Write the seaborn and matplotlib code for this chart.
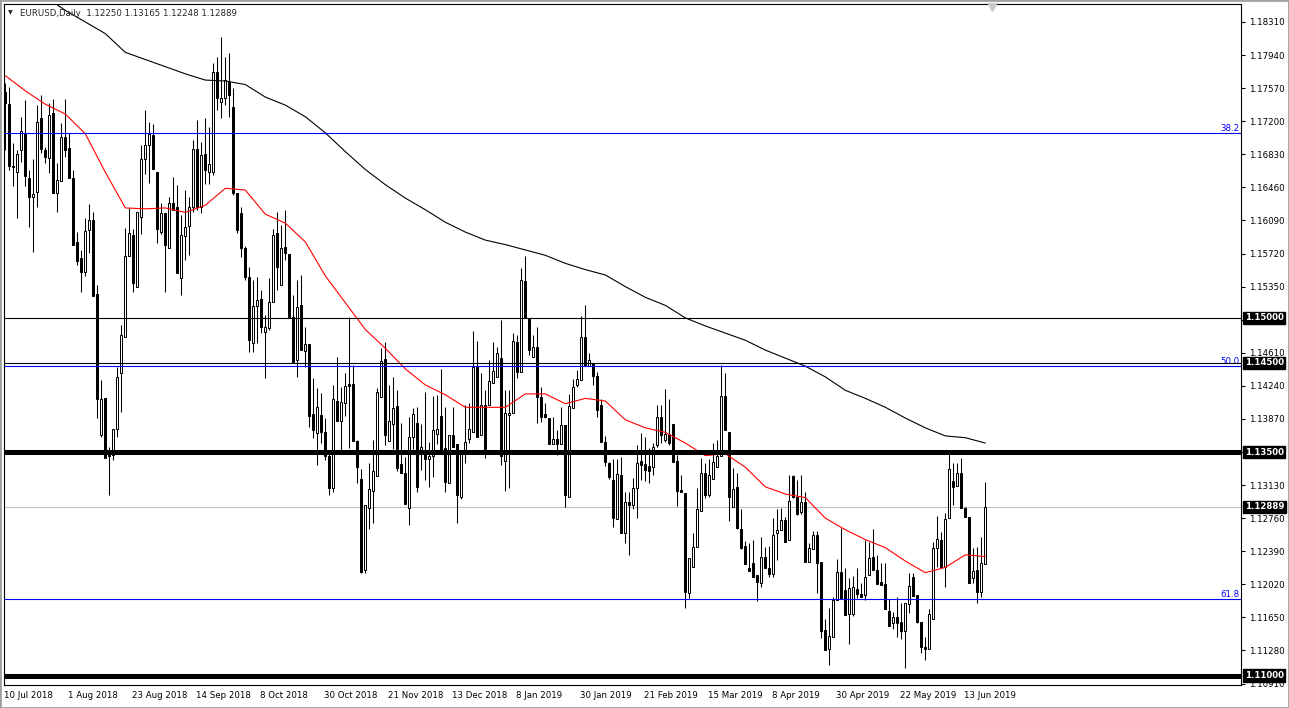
"""
EURUSD daily candles (Jul 2018 - Jun 2019) with two moving averages,
support/resistance lines and Fibonacci levels, drawn in a MetaTrader-like style.
"""
import pandas as pd
import seaborn as sns
import matplotlib.pyplot as plt
import matplotlib.transforms as mtransforms
from matplotlib.patches import Rectangle

sns.set_style("white")
plt.rcParams["font.family"] = ["DejaVu Sans"]

################################ data

OPEN = [
    1.1753, 1.1739, 1.1670, 1.1663, 1.1688, 1.1707, 1.1657, 1.1635, 1.1641, 1.1724,
    1.1688, 1.1679, 1.1729, 1.1640, 1.1653, 1.1702, 1.1690, 1.1657, 1.1585, 1.1567,
    1.1551, 1.1598, 1.1610, 1.1527, 1.1369, 1.1410, 1.1347, 1.1347, 1.1376, 1.1438,
    1.1479, 1.1569, 1.1593, 1.1535, 1.1613, 1.1678, 1.1693, 1.1705, 1.1663, 1.1596,
    1.1617, 1.1578, 1.1629, 1.1624, 1.1545, 1.1592, 1.1603, 1.1624, 1.1689, 1.1624,
    1.1683, 1.1663, 1.1663, 1.1775, 1.1742, 1.1746, 1.1764, 1.1736, 1.1640, 1.1617,
    1.1578, 1.1546, 1.1472, 1.1513, 1.1521, 1.1484, 1.1489, 1.1518, 1.1595, 1.1537,
    1.1579, 1.1571, 1.1501, 1.1453, 1.1514, 1.1463, 1.1471, 1.1393, 1.1371, 1.1391,
    1.1372, 1.1345, 1.1310, 1.1407, 1.1385, 1.1405, 1.1426, 1.1426, 1.1362, 1.1320,
    1.1218, 1.1287, 1.1306, 1.1323, 1.1412, 1.1454, 1.1362, 1.1381, 1.1402, 1.1337,
    1.1327, 1.1287, 1.1367, 1.1382, 1.1352, 1.1350, 1.1342, 1.1345, 1.1370, 1.1390,
    1.1354, 1.1315, 1.1369, 1.1359, 1.1300, 1.1348, 1.1365, 1.1372, 1.1446, 1.1369,
    1.1403, 1.1403, 1.1427, 1.1434, 1.1455, 1.1340, 1.1391, 1.1394, 1.1473, 1.1440,
    1.1541, 1.1499, 1.1456, 1.1467, 1.1412, 1.1393, 1.1388, 1.1359, 1.1365, 1.1359,
    1.1380, 1.1300, 1.1399, 1.1425, 1.1431, 1.1479, 1.1446, 1.1450, 1.1435, 1.1403,
    1.1361, 1.1338, 1.1319, 1.1275, 1.1324, 1.1259, 1.1294, 1.1291, 1.1310, 1.1340,
    1.1337, 1.1334, 1.1333, 1.1358, 1.1389, 1.1363, 1.1370, 1.1381, 1.1340, 1.1308,
    1.1304, 1.1192, 1.1221, 1.1244, 1.1284, 1.1327, 1.1302, 1.1320, 1.1333, 1.1346,
    1.1413, 1.1372, 1.1289, 1.1311, 1.1264, 1.1245, 1.1220, 1.1226, 1.1212, 1.1203,
    1.1233, 1.1220, 1.1214, 1.1259, 1.1263, 1.1274, 1.1252, 1.1323, 1.1300, 1.1283,
    1.1294, 1.1227, 1.1242, 1.1257, 1.1227, 1.1151, 1.1130, 1.1143, 1.1184, 1.1216,
    1.1196, 1.1169, 1.1169, 1.1197, 1.1191, 1.1190, 1.1212, 1.1233, 1.1218, 1.1205,
    1.1202, 1.1172, 1.1159, 1.1165, 1.1160, 1.1150, 1.1180, 1.1210, 1.1190, 1.1160,
    1.1132, 1.1130, 1.1163, 1.1243, 1.1252, 1.1221, 1.1276, 1.1318, 1.1312, 1.1327,
    1.1287, 1.1277, 1.1209, 1.1218, 1.1193, 1.12250,
]
HIGH = [
    1.1763, 1.1758, 1.1696, 1.1688, 1.1725, 1.1744, 1.1665, 1.1678, 1.1738, 1.1749,
    1.1691, 1.1740, 1.1745, 1.1673, 1.1718, 1.1745, 1.1707, 1.1665, 1.1596, 1.1576,
    1.1612, 1.1627, 1.1618, 1.1537, 1.1431, 1.1410, 1.1356, 1.1376, 1.1445, 1.1492,
    1.1601, 1.1623, 1.1599, 1.1618, 1.1693, 1.1733, 1.1719, 1.1717, 1.1663, 1.1629,
    1.1617, 1.1635, 1.1658, 1.1649, 1.1615, 1.1643, 1.1635, 1.1699, 1.1721, 1.1697,
    1.1724, 1.1714, 1.1785, 1.1792, 1.1814, 1.1792, 1.1796, 1.1757, 1.1640, 1.1624,
    1.1580, 1.1557, 1.1542, 1.1546, 1.1531, 1.1503, 1.1545, 1.1599, 1.1618, 1.1604,
    1.1621, 1.1571, 1.1526, 1.1542, 1.1548, 1.1490, 1.1471, 1.1433, 1.1422, 1.1416,
    1.1388, 1.1352, 1.1425, 1.1456, 1.1423, 1.1438, 1.1501, 1.1447, 1.1363, 1.1331,
    1.1291, 1.1338, 1.1363, 1.1422, 1.1466, 1.1473, 1.1425, 1.1434, 1.1419, 1.1382,
    1.1344, 1.1389, 1.1399, 1.1400, 1.1381, 1.1417, 1.1361, 1.1413, 1.1414, 1.1443,
    1.1400, 1.1369, 1.1400, 1.1359, 1.1352, 1.1403, 1.1405, 1.1485, 1.1474, 1.1438,
    1.1419, 1.1453, 1.1473, 1.1468, 1.1498, 1.1419, 1.1419, 1.1483, 1.1481, 1.1556,
    1.1569, 1.1499, 1.1481, 1.1490, 1.1423, 1.1405, 1.1388, 1.1389, 1.1375, 1.1400,
    1.1380, 1.1415, 1.1432, 1.1442, 1.1502, 1.1514, 1.1461, 1.1450, 1.1440, 1.1409,
    1.1368, 1.1339, 1.1342, 1.1342, 1.1344, 1.1305, 1.1305, 1.1321, 1.1358, 1.1371,
    1.1367, 1.1355, 1.1360, 1.1403, 1.1403, 1.1421, 1.1409, 1.1381, 1.1347, 1.1324,
    1.1304, 1.1231, 1.1259, 1.1310, 1.1343, 1.1338, 1.1342, 1.1360, 1.1363, 1.1447,
    1.1438, 1.1372, 1.1332, 1.1327, 1.1286, 1.1251, 1.1248, 1.1252, 1.1212, 1.1255,
    1.1244, 1.1245, 1.1276, 1.1286, 1.1287, 1.1277, 1.1324, 1.1324, 1.1319, 1.1324,
    1.1305, 1.1248, 1.1262, 1.1262, 1.1227, 1.1163, 1.1176, 1.1188, 1.1230, 1.1265,
    1.1220, 1.1209, 1.1211, 1.1220, 1.1204, 1.1252, 1.1249, 1.1264, 1.1235, 1.1226,
    1.1226, 1.1186, 1.1171, 1.1188, 1.1181, 1.1181, 1.1215, 1.1215, 1.1190, 1.1160,
    1.1143, 1.1174, 1.1249, 1.1278, 1.1261, 1.1282, 1.1348, 1.1338, 1.1338, 1.1343,
    1.1288, 1.1277, 1.1243, 1.1244, 1.1255, 1.13165,
]
LOW = [
    1.1688, 1.1665, 1.1648, 1.1612, 1.1674, 1.1648, 1.1602, 1.1574, 1.1624, 1.1684,
    1.1673, 1.1662, 1.1640, 1.1618, 1.1653, 1.1680, 1.1657, 1.1582, 1.1559, 1.1529,
    1.1547, 1.1573, 1.1525, 1.1388, 1.1367, 1.1343, 1.1302, 1.1341, 1.1367, 1.1395,
    1.1479, 1.1569, 1.1529, 1.1535, 1.1594, 1.1661, 1.1651, 1.1667, 1.1584, 1.1594,
    1.1529, 1.1578, 1.1621, 1.1550, 1.1526, 1.1565, 1.1570, 1.1618, 1.1621, 1.1617,
    1.1650, 1.1650, 1.1660, 1.1733, 1.1724, 1.1738, 1.1725, 1.1638, 1.1595, 1.1568,
    1.1542, 1.1462, 1.1462, 1.1472, 1.1483, 1.1433, 1.1487, 1.1518, 1.1531, 1.1537,
    1.1565, 1.1500, 1.1450, 1.1434, 1.1464, 1.1445, 1.1378, 1.1366, 1.1336, 1.1360,
    1.1341, 1.1302, 1.1305, 1.1385, 1.1352, 1.1390, 1.1355, 1.1362, 1.1315, 1.1215,
    1.1215, 1.1264, 1.1271, 1.1323, 1.1412, 1.1358, 1.1362, 1.1353, 1.1329, 1.1327,
    1.1292, 1.1268, 1.1353, 1.1305, 1.1330, 1.1319, 1.1311, 1.1322, 1.1359, 1.1352,
    1.1305, 1.1315, 1.1356, 1.1271, 1.1298, 1.1338, 1.1360, 1.1372, 1.1367, 1.1369,
    1.1343, 1.1403, 1.1427, 1.1434, 1.1336, 1.1306, 1.1310, 1.1394, 1.1433, 1.1440,
    1.1500, 1.1459, 1.1456, 1.1382, 1.1384, 1.1388, 1.1359, 1.1359, 1.1347, 1.1359,
    1.1289, 1.1300, 1.1399, 1.1423, 1.1431, 1.1447, 1.1446, 1.1425, 1.1389, 1.1361,
    1.1334, 1.1320, 1.1266, 1.1275, 1.1259, 1.1248, 1.1235, 1.1286, 1.1276, 1.1319,
    1.1318, 1.1315, 1.1324, 1.1356, 1.1360, 1.1361, 1.1358, 1.1339, 1.1290, 1.1305,
    1.1176, 1.1187, 1.1221, 1.1244, 1.1284, 1.1299, 1.1300, 1.1320, 1.1333, 1.1346,
    1.1375, 1.1273, 1.1289, 1.1264, 1.1242, 1.1225, 1.1217, 1.1210, 1.1183, 1.1199,
    1.1220, 1.1210, 1.1210, 1.1229, 1.1263, 1.1249, 1.1252, 1.1299, 1.1280, 1.1281,
    1.1227, 1.1227, 1.1242, 1.1192, 1.1142, 1.1129, 1.1112, 1.1143, 1.1184, 1.1187,
    1.1168, 1.1135, 1.1167, 1.1187, 1.1188, 1.1184, 1.1212, 1.1218, 1.1202, 1.1201,
    1.1174, 1.1155, 1.1152, 1.1143, 1.1141, 1.1108, 1.1170, 1.1189, 1.1159, 1.1125,
    1.1117, 1.1130, 1.1163, 1.1221, 1.1221, 1.1199, 1.1276, 1.1291, 1.1312, 1.1287,
    1.1277, 1.1204, 1.1204, 1.1181, 1.1188, 1.12248,
]
CLOSE = [
    1.1740, 1.1670, 1.1669, 1.1683, 1.1709, 1.1659, 1.1635, 1.1639, 1.1719, 1.1689,
    1.1680, 1.1727, 1.1640, 1.1654, 1.1702, 1.1688, 1.1657, 1.1582, 1.1564, 1.1551,
    1.1597, 1.1610, 1.1525, 1.1409, 1.1409, 1.1343, 1.1346, 1.1376, 1.1434, 1.1481,
    1.1569, 1.1595, 1.1539, 1.1618, 1.1678, 1.1693, 1.1706, 1.1667, 1.1599, 1.1617,
    1.1582, 1.1629, 1.1621, 1.1550, 1.1593, 1.1602, 1.1624, 1.1689, 1.1624, 1.1682,
    1.1665, 1.1672, 1.1775, 1.1746, 1.1746, 1.1766, 1.1749, 1.1640, 1.1598, 1.1578,
    1.1546, 1.1475, 1.1513, 1.1520, 1.1490, 1.1490, 1.1518, 1.1593, 1.1557, 1.1578,
    1.1573, 1.1501, 1.1451, 1.1512, 1.1464, 1.1471, 1.1390, 1.1375, 1.1400, 1.1372,
    1.1345, 1.1310, 1.1409, 1.1385, 1.1406, 1.1424, 1.1424, 1.1362, 1.1333, 1.1216,
    1.1291, 1.1309, 1.1329, 1.1417, 1.1452, 1.1369, 1.1385, 1.1399, 1.1332, 1.1327,
    1.1292, 1.1367, 1.1393, 1.1311, 1.1356, 1.1342, 1.1345, 1.1375, 1.1376, 1.1352,
    1.1317, 1.1369, 1.1356, 1.1302, 1.1348, 1.1361, 1.1376, 1.1445, 1.1367, 1.1403,
    1.1353, 1.1429, 1.1441, 1.1461, 1.1345, 1.1394, 1.1394, 1.1474, 1.1440, 1.1542,
    1.1500, 1.1464, 1.1467, 1.1412, 1.1389, 1.1389, 1.1359, 1.1365, 1.1359, 1.1380,
    1.1302, 1.1402, 1.1423, 1.1432, 1.1479, 1.1447, 1.1453, 1.1435, 1.1397, 1.1361,
    1.1339, 1.1322, 1.1276, 1.1325, 1.1259, 1.1294, 1.1291, 1.1310, 1.1338, 1.1336,
    1.1330, 1.1329, 1.1356, 1.1389, 1.1369, 1.1370, 1.1360, 1.1339, 1.1306, 1.1305,
    1.1193, 1.1231, 1.1244, 1.1286, 1.1327, 1.1302, 1.1324, 1.1339, 1.1346, 1.1413,
    1.1375, 1.1300, 1.1309, 1.1265, 1.1243, 1.1225, 1.1217, 1.1210, 1.1205, 1.1233,
    1.1220, 1.1214, 1.1257, 1.1263, 1.1274, 1.1249, 1.1295, 1.1300, 1.1281, 1.1294,
    1.1227, 1.1243, 1.1257, 1.1226, 1.1150, 1.1129, 1.1144, 1.1184, 1.1216, 1.1187,
    1.1168, 1.1198, 1.1199, 1.1191, 1.1188, 1.1210, 1.1231, 1.1218, 1.1202, 1.1201,
    1.1174, 1.1155, 1.1165, 1.1159, 1.1150, 1.1181, 1.1200, 1.1189, 1.1160, 1.1132,
    1.1130, 1.1169, 1.1243, 1.1253, 1.1221, 1.1275, 1.1331, 1.1311, 1.1327, 1.1287,
    1.1277, 1.1204, 1.1217, 1.1193, 1.1226, 1.12889,
]

# moving averages, sampled every 5 bars
RED_MA_BARS = list(range(0, 246, 5))
RED_MA = [
    1.1771, 1.1754, 1.1739, 1.1728, 1.1706, 1.1663, 1.1623, 1.1622, 1.1623, 1.1618,
    1.1626, 1.1645, 1.1643, 1.1616, 1.1606, 1.1585, 1.1547, 1.1517, 1.1487, 1.1466,
    1.1443, 1.1425, 1.1414, 1.1400, 1.1400, 1.1400, 1.1415, 1.1415, 1.1404, 1.1410,
    1.1407, 1.1386, 1.1377, 1.1372, 1.1360, 1.1346, 1.1348, 1.1333, 1.1311, 1.1303,
    1.1299, 1.1276, 1.1263, 1.1252, 1.1243, 1.1228, 1.1215, 1.1221, 1.1235, 1.1233,
]
BLACK_MA_BARS = [13] + list(range(15, 246, 5))
BLACK_MA = [
    1.1850, 1.1844, 1.1831, 1.1818, 1.1797, 1.1789, 1.1781, 1.1773, 1.1766, 1.1765,
    1.1761, 1.1747, 1.1738, 1.1725, 1.1707, 1.1686, 1.1666, 1.1649, 1.1634, 1.1621,
    1.1607, 1.1596, 1.1587, 1.1582, 1.1576, 1.1570, 1.1561, 1.1554, 1.1548, 1.1535,
    1.1523, 1.1514, 1.1500, 1.1491, 1.1483, 1.1475, 1.1464, 1.1455, 1.1446, 1.1434,
    1.1419, 1.1410, 1.1400, 1.1388, 1.1377, 1.1368, 1.1366, 1.1360,
]

THIN_LEVELS = [1.1500, 1.1450]
THICK_LEVELS = [1.1350, 1.1100]
FIB_LABELS = ["38.2", "50.0", "61.8"]
FIB_PRICES = [1.17068, 1.14462, 1.11856]
BID = 1.12889
BOXED_PRICES = [1.15000, 1.14500, 1.13500, 1.12889, 1.11000]

PRICE_TICKS = [1.18310, 1.17940, 1.17570, 1.17200, 1.16830, 1.16460, 1.16090,
               1.15720, 1.15350, 1.14980, 1.14610, 1.14240, 1.13870, 1.13500,
               1.13130, 1.12760, 1.12390, 1.12020, 1.11650, 1.11280, 1.10910]
# scale labels that sit under a boxed price are not visible
HIDDEN_TICKS = [1.14980, 1.13500]
DATE_LABELS = ["10 Jul 2018", "1 Aug 2018", "23 Aug 2018", "14 Sep 2018",
               "8 Oct 2018", "30 Oct 2018", "21 Nov 2018", "13 Dec 2018",
               "8 Jan 2019", "30 Jan 2019", "21 Feb 2019", "15 Mar 2019",
               "8 Apr 2019", "30 Apr 2019", "22 May 2019", "13 Jun 2019"]
DATE_BARS = list(range(0, 241, 16))
TITLE = "EURUSD,Daily  1.12250 1.13165 1.12248 1.12889"

df = pd.DataFrame({"open": OPEN, "high": HIGH, "low": LOW, "close": CLOSE})
df["bar"] = range(len(df))
df["bull"] = df["close"] >= df["open"]

################################ plotting

W, H = 1289, 708
FONT = 6.2
fig = plt.figure(figsize=(W / 100, H / 100), dpi=100)
ax = fig.add_axes([4 / W, 1 - 685 / H, 1237 / W, 681 / H])
ax.set_xlim(-0.325, 308.9)
ax.set_ylim(1.10894, 1.18511)

# candles
ax.vlines(df["bar"], df["low"], df["high"], color="black", linewidth=0.75, zorder=2)
body_bottom = df[["open", "close"]].min(axis=1)
body_height = (df["close"] - df["open"]).abs()
ax.bar(df["bar"], body_height, bottom=body_bottom, width=0.55,
       color=df["bull"].map({True: "white", False: "black"}),
       edgecolor="black", linewidth=0.72, zorder=3)

# moving averages
sns.lineplot(x=RED_MA_BARS, y=RED_MA, ax=ax, color="red", linewidth=0.8, zorder=4)
sns.lineplot(x=BLACK_MA_BARS, y=BLACK_MA, ax=ax, color="black", linewidth=0.8, zorder=4)

# horizontal levels
ax.axhline(BID, color="#c0c0c0", linewidth=0.8, zorder=1)
for lvl in THIN_LEVELS:
    ax.axhline(lvl, color="black", linewidth=0.8, zorder=5)
for lvl in THICK_LEVELS:
    ax.axhline(lvl, color="black", linewidth=3.6, zorder=5)
for lab, lvl in zip(FIB_LABELS, FIB_PRICES):
    ax.axhline(lvl, color="#0000ff", linewidth=0.8, zorder=5)
    ax.text(0.9985, lvl, lab, color="#0000ff", fontsize=FONT, ha="right", va="bottom",
            transform=mtransforms.blended_transform_factory(ax.transAxes, ax.transData))

# axes look
for side in ["top", "bottom", "left", "right"]:
    ax.spines[side].set(color="black", linewidth=0.8)
ax.yaxis.tick_right()
ax.set_yticks(PRICE_TICKS)
ax.set_yticklabels(["" if t in HIDDEN_TICKS else f"{t:.5f}" for t in PRICE_TICKS])
ax.tick_params(axis="y", which="major", length=3, width=0.8, pad=2.5,
               labelsize=FONT, colors="black", direction="out")
ax.set_xticks(DATE_BARS)
ax.set_xticklabels(DATE_LABELS, ha="left")
ax.tick_params(axis="x", which="major", length=3, width=0.8, pad=1.5,
               labelsize=FONT, colors="black", direction="out")
for lbl in ax.get_xticklabels():
    lbl.set_transform(lbl.get_transform() + mtransforms.ScaledTranslation(-1 / 100, 0, fig.dpi_scale_trans))

# boxed prices on the right scale
trans = mtransforms.blended_transform_factory(ax.transAxes, ax.transData)
for p in BOXED_PRICES:
    ax.text(1.0030, p, f"{p:.5f}", color="white", fontsize=FONT, fontweight="bold",
            ha="left", va="center", transform=trans, clip_on=False, zorder=10,
            bbox=dict(boxstyle="square,pad=0.18", facecolor="black", edgecolor="black"))

# title and chart-shift marker
fig.text(8 / W, 1 - 13 / H, "\u25bc", fontsize=4.5, ha="left", va="center")
fig.text(20 / W, 1 - 13 / H, TITLE, fontsize=FONT, ha="left", va="center")
ax.plot([246.7], [0.995], marker="v", markersize=6, color="#c8c8c8",
        transform=mtransforms.blended_transform_factory(ax.transData, ax.transAxes),
        clip_on=False, zorder=6)

# window border
fig.patches.append(Rectangle((0, 0), 1, 1, transform=fig.transFigure, fill=False,
                             edgecolor="#a0a0a0", linewidth=2.0))

fig.savefig("out.png", dpi=100)
plt.close(fig)
